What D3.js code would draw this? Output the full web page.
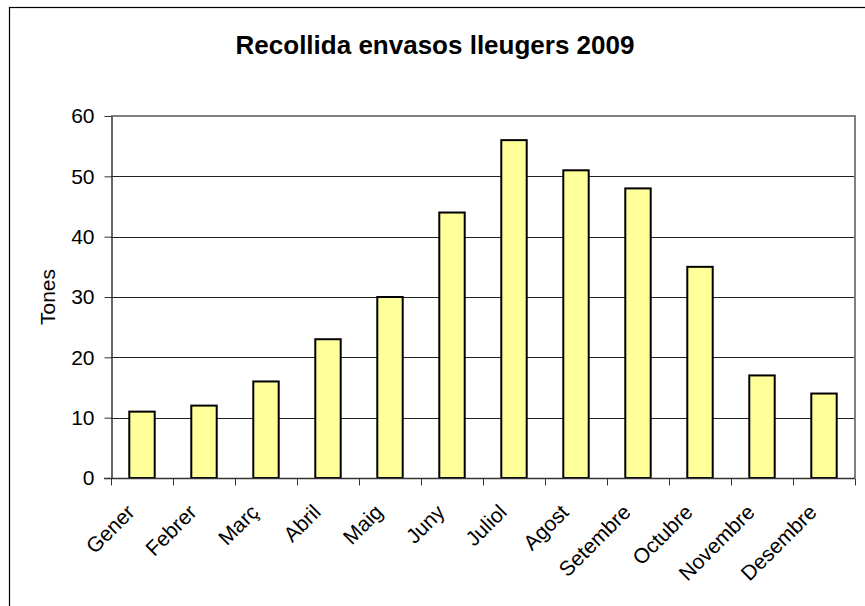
<!DOCTYPE html>
<html>
<head>
<meta charset="utf-8">
<script src="https://cdn.jsdelivr.net/npm/d3@7"></script>
<style>
  html, body { margin: 0; padding: 0; background: #fff; }
  svg { display: block; }
  text { font-family: "Liberation Sans", Arial, sans-serif; fill: #000; }
</style>
</head>
<body>
<svg id="chart" width="865" height="606"></svg>
<script>
const months = ["Gener", "Febrer", "Març", "Abril", "Maig", "Juny", "Juliol", "Agost", "Setembre", "Octubre", "Novembre", "Desembre"];
const tones = [11, 12, 16, 23, 30, 44, 56, 51, 48, 35, 17, 14];
const yTicks = [0, 10, 20, 30, 40, 50, 60];
const title = "Recollida envasos lleugers 2009";
const yLabel = "Tones";

const svg = d3.select("#chart");
const W = 865, H = 606;
const m = { left: 111, top: 116 };
const plotW = 744, plotH = 362;
const FS = 21;

// outer chart frame (extends beyond the viewport at right/bottom)
svg.append("rect")
  .attr("x", 9.5).attr("y", 7.5)
  .attr("width", W + 20).attr("height", H + 20)
  .attr("fill", "#fff").attr("stroke", "#000").attr("stroke-width", 1.2);

const x = d3.scaleBand().domain(months).range([0, plotW]).padding(0);
const y = d3.scaleLinear().domain([0, 60]).range([plotH, 0]);

const g = svg.append("g").attr("transform", `translate(${m.left},${m.top})`);

// gridlines
g.selectAll(".grid").data(yTicks.filter(t => t > 0 && t < 60)).enter()
  .append("line")
  .attr("x1", 0).attr("x2", plotW)
  .attr("y1", d => Math.round(y(d)) + 0.5).attr("y2", d => Math.round(y(d)) + 0.5)
  .attr("stroke", "#222").attr("stroke-width", 1);

// plot area border (top & right gray)
g.append("path")
  .attr("d", `M0,${y(60)}H${plotW}V${plotH}`)
  .attr("fill", "none").attr("stroke", "#808080").attr("stroke-width", 2);

// bars
const barFrac = 0.41;
g.selectAll(".bar").data(months).enter()
  .append("rect")
  .attr("x", (d) => x(d) + x.bandwidth() * (1 - barFrac) / 2)
  .attr("width", x.bandwidth() * barFrac)
  .attr("y", (d, i) => y(tones[i]))
  .attr("height", (d, i) => plotH - y(tones[i]))
  .attr("fill", "#FFFF99").attr("stroke", "#000").attr("stroke-width", 2);

// y axis
const yAxis = g.append("g")
  .attr("transform", "translate(0.5,0)")
  .call(d3.axisLeft(y).tickValues(yTicks).tickSize(7).tickPadding(10).tickSizeOuter(0));
yAxis.select(".domain").attr("stroke", "#333").attr("stroke-width", 1.5);
yAxis.selectAll(".tick line").attr("stroke", "#333");
yAxis.selectAll(".tick text").attr("font-size", FS).attr("font-family", "Liberation Sans, Arial, sans-serif").attr("fill", "#000");

// x axis with tick marks at band boundaries
const xAxisG = g.append("g").attr("transform", `translate(0,${plotH + 0.5})`);
xAxisG.append("line").attr("x1", -7).attr("x2", plotW).attr("y1", 0).attr("y2", 0)
  .attr("stroke", "#333").attr("stroke-width", 1.5);
const bounds = months.map(d => x(d)).concat([plotW]);
xAxisG.selectAll(".xt").data(bounds).enter().append("line")
  .attr("x1", d => Math.round(d) + 0.5).attr("x2", d => Math.round(d) + 0.5)
  .attr("y1", 0).attr("y2", 7).attr("stroke", "#333").attr("stroke-width", 1);

xAxisG.selectAll(".xl").data(months).enter().append("text")
  .attr("transform", d => `translate(${x(d) + x.bandwidth() / 2 - 6},35) rotate(-45)`)
  .attr("text-anchor", "end")
  .attr("font-size", FS)
  .text(d => d);

// title
svg.append("text")
  .attr("x", 435).attr("y", 54)
  .attr("text-anchor", "middle")
  .attr("font-size", 26).attr("font-weight", "bold")
  .text(title);

// y label
svg.append("text")
  .attr("transform", `translate(55,${m.top + plotH / 2}) rotate(-90)`)
  .attr("text-anchor", "middle")
  .attr("font-size", FS)
  .text(yLabel);
</script>
</body>
</html>
